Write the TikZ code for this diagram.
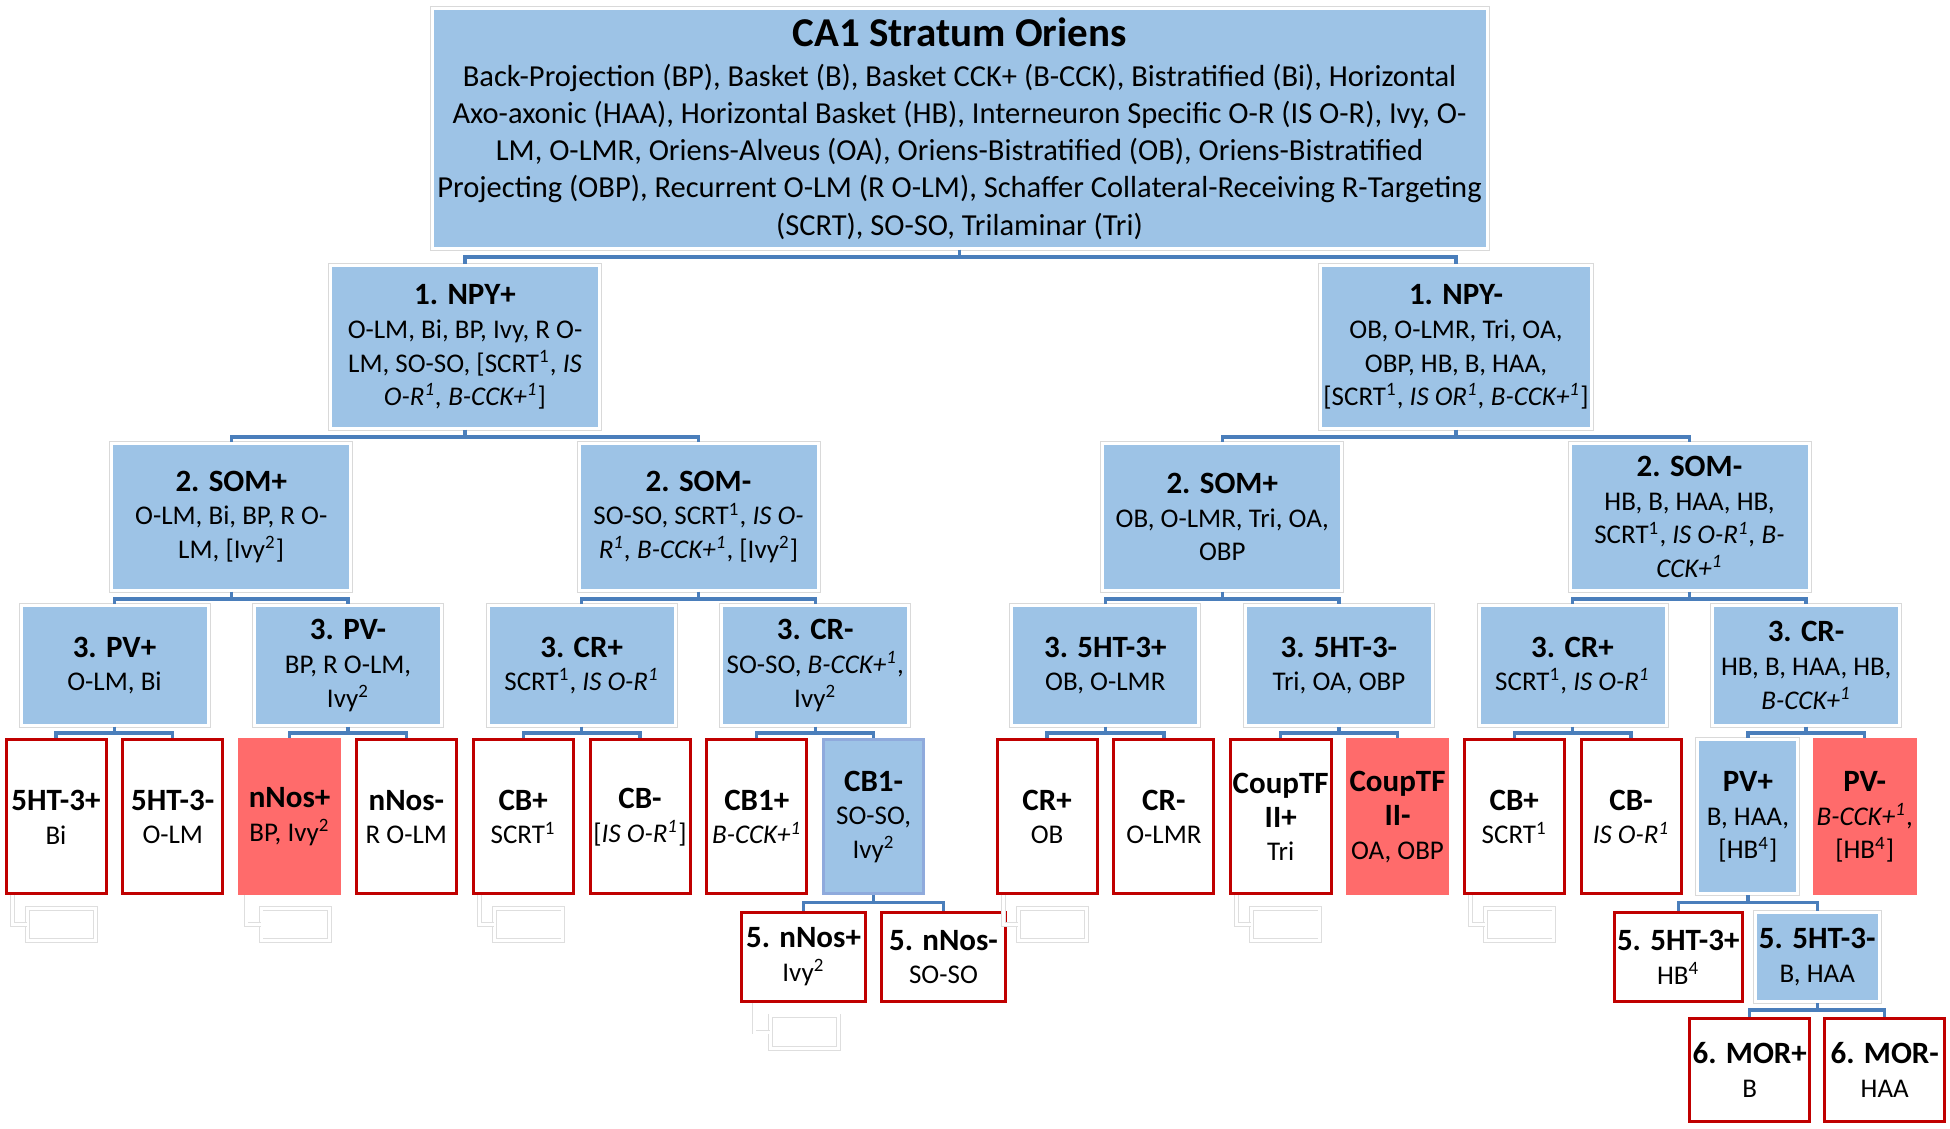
\documentclass[tikz,border=0pt]{standalone}
\usepackage{fontspec}
\setmainfont{Carlito}
\usepackage{tikz}
\usetikzlibrary{positioning}
\definecolor{cellblue}{RGB}{157,195,230}
\definecolor{linkblue}{RGB}{74,126,187}
\definecolor{leafred}{RGB}{192,0,0}
\definecolor{hotred}{RGB}{255,107,107}
\definecolor{cbline}{RGB}{143,170,220}
\tikzstyle{cell} = [rectangle, align=center, inner sep=1pt, font=\fontsize{10.8}{13.5}\selectfont]
\tikzstyle{bluebox} = [cell, fill=cellblue, draw=white, line width=1.2pt, preaction={draw=black!15, line width=2pt}]
\tikzstyle{cbbox} = [cell, fill=cellblue, draw=cbline, line width=1.2pt, minimum width=40pt, minimum height=61.6pt]
\tikzstyle{leaf} = [cell, fill=white, draw=leafred, line width=1.2pt, minimum width=40pt, minimum height=61.6pt]
\tikzstyle{hot} = [cell, fill=hotred, draw=hotred, line width=1.2pt, minimum width=40pt, minimum height=61.6pt]
\tikzstyle{leafsz} = [minimum width=40pt, minimum height=61.6pt]
\tikzstyle{topsz} = [minimum width=422pt, minimum height=96pt, font=\fontsize{12.2}{14.9}\selectfont]
\tikzstyle{npysz} = [minimum width=107.6pt, minimum height=65.2pt]
\tikzstyle{somsz} = [minimum width=95.6pt, minimum height=58.8pt]
\tikzstyle{lvsz} = [minimum width=74.8pt, minimum height=48pt]
\tikzstyle{fivesz} = [minimum width=49.6pt, minimum height=35.6pt]
\tikzstyle{sixsz} = [minimum width=48pt, minimum height=41.2pt]
\tikzstyle{ghost} = [rectangle, draw=black!13, double=white, double distance=1.2pt, line width=0.35pt, minimum width=27.3pt, minimum height=12.9pt, inner sep=0pt]
\tikzstyle{glink} = [draw=black!13, double=white, double distance=1.2pt, line width=0.35pt]
\tikzstyle{link} = [draw=linkblue, line width=1.3pt]
\newcommand{\fnm}[1]{\textsuperscript{#1}}
\newcommand{\hd}[1]{{\fontsize{12.4}{14}\selectfont\bfseries #1}}

\begin{document}
\begin{tikzpicture}[x=1pt, y=1pt, node distance=46.72pt]
    \useasboundingbox (0,0) rectangle (780,-451.6);
    % top
    \node[bluebox, topsz] (root) at (383.8,-51.4) {{\fontsize{16.4}{18}\selectfont\bfseries CA1 Stratum Oriens}\\[1pt]
        Back-Projection (BP), Basket (B), Basket CCK+ (B-CCK), Bistratified (Bi), Horizontal\\
        Axo-axonic (HAA), Horizontal Basket (HB), Interneuron Specific O-R (IS O-R), Ivy, O-\\
        LM, O-LMR, Oriens-Alveus (OA), Oriens-Bistratified (OB), Oriens-Bistratified\\
        Projecting (OBP), Recurrent O-LM (R O-LM), Schaffer Collateral-Receiving R-Targeting\\
        (SCRT), SO-SO, Trilaminar (Tri)};
    % 1. NPY
    \node[bluebox, npysz] (npyp) at (186,-138.8) {\hd{1. NPY+}\\O-LM, Bi, BP, Ivy, R O-\\LM, SO-SO, {[}SCRT\fnm{1}, \textit{IS}\\\textit{O-R\fnm{1}, B-CCK+\fnm{1}}{]}};
    \node[bluebox, npysz, right of=npyp, node distance=396.4pt] (npym) {\hd{1. NPY-}\\OB, O-LMR, Tri, OA,\\OBP, HB, B, HAA,\\{[}SCRT\fnm{1}, \textit{IS OR\fnm{1}, B-CCK+\fnm{1}}{]}};
    % 2. SOM
    \node[bluebox, somsz] (somp) at (92.5,-206.8) {\hd{2. SOM+}\\O-LM, Bi, BP, R O-\\LM, {[}Ivy\fnm{2}{]}};
    \node[bluebox, somsz, right of=somp, node distance=186.9pt] (somm) {\hd{2. SOM-}\\SO-SO, SCRT\fnm{1}, \textit{IS O-}\\\textit{R\fnm{1}, B-CCK+\fnm{1}}, {[}Ivy\fnm{2}{]}};
    \node[bluebox, somsz, right of=somm, node distance=209.5pt] (sompb) {\hd{2. SOM+}\\OB, O-LMR, Tri, OA,\\OBP};
    \node[bluebox, somsz, right of=sompb, node distance=186.9pt] (sommb) {\hd{2. SOM-}\\HB, B, HAA, HB,\\SCRT\fnm{1}, \textit{IS O-R\fnm{1}, B-}\\\textit{CCK+\fnm{1}}};
    % 3.
    \node[bluebox, lvsz] (pvp) at (45.8,-266.2) {\hd{3. PV+}\\O-LM, Bi};
    \node[bluebox, lvsz, right of=pvp, node distance=93.44pt] (pvm) {\hd{3. PV-}\\BP, R O-LM,\\Ivy\fnm{2}};
    \node[bluebox, lvsz, right of=pvm, node distance=93.44pt] (crp) {\hd{3. CR+}\\SCRT\fnm{1}, \textit{IS O-R\fnm{1}}};
    \node[bluebox, lvsz, right of=crp, node distance=93.44pt] (crm) {\hd{3. CR-}\\SO-SO, \textit{B-CCK+\fnm{1}},\\Ivy\fnm{2}};
    \node[bluebox, lvsz, right of=crm, node distance=116pt] (htp) {\hd{3. 5HT-3+}\\OB, O-LMR};
    \node[bluebox, lvsz, right of=htp, node distance=93.44pt] (htm) {\hd{3. 5HT-3-}\\Tri, OA, OBP};
    \node[bluebox, lvsz, right of=htm, node distance=93.44pt] (crpb) {\hd{3. CR+}\\SCRT\fnm{1}, \textit{IS O-R\fnm{1}}};
    \node[bluebox, lvsz, right of=crpb, node distance=93.44pt] (crmb) {\hd{3. CR-}\\HB, B, HAA, HB,\\\textit{B-CCK+\fnm{1}}};
    % leaves
    \node[leaf] (l1) at (22.4,-326.8) {\hd{5HT-3+}\\Bi};
    \node[leaf, right of=l1] (l2) {\hd{5HT-3-}\\O-LM};
    \node[hot, right of=l2] (l3) {\hd{nNos+}\\BP, Ivy\fnm{2}};
    \node[leaf, right of=l3] (l4) {\hd{nNos-}\\R O-LM};
    \node[leaf, right of=l4] (l5) {\hd{CB+}\\SCRT\fnm{1}};
    \node[leaf, right of=l5] (l6) {\hd{CB-}\\{[}\textit{IS O-R\fnm{1}}{]}};
    \node[leaf, right of=l6] (l7) {\hd{CB1+}\\\textit{B-CCK+\fnm{1}}};
    \node[cbbox, right of=l7] (l8) {\hd{CB1-}\\SO-SO,\\Ivy\fnm{2}};
    \node[leaf, right of=l8, node distance=69.4pt] (l9) {\hd{CR+}\\OB};
    \node[leaf, right of=l9] (l10) {\hd{CR-}\\O-LMR};
    \node[leaf, right of=l10] (l11) {\hd{CoupTF}\\\hd{II+}\\Tri};
    \node[hot, right of=l11] (l12) {\hd{CoupTF}\\\hd{II-}\\OA, OBP};
    \node[leaf, right of=l12] (l13) {\hd{CB+}\\SCRT\fnm{1}};
    \node[leaf, right of=l13] (l14) {\hd{CB-}\\\textit{IS O-R\fnm{1}}};
    \node[bluebox, leafsz, right of=l14] (l15) {\hd{PV+}\\B, HAA,\\{[}HB\fnm{4}{]}};
    \node[hot, right of=l15] (l16) {\hd{PV-}\\\textit{B-CCK+\fnm{1}},\\{[}HB\fnm{4}{]}};
    % 5. and 6.
    \node[leaf, fivesz] (m1) at (321.4,-382.8) {\hd{5. nNos+}\\Ivy\fnm{2}};
    \node[leaf, fivesz, right of=m1, node distance=56pt] (m2) {\hd{5. nNos-}\\SO-SO};
    \node[leaf, fivesz] (m3) at (671.3,-382.8) {\hd{5. 5HT-3+}\\HB\fnm{4}};
    \node[bluebox, fivesz, right of=m3, node distance=55.6pt] (m4) {\hd{5. 5HT-3-}\\B, HAA};
    \node[leaf, sixsz] (n1) at (699.9,-428) {\hd{6. MOR+}\\B};
    \node[leaf, sixsz, right of=n1, node distance=54pt] (n2) {\hd{6. MOR-}\\HAA};
    % empty boxes
    \node[ghost, below right=5pt and 9pt of l1.south west] (g1) {};
    \node[ghost, below right=5pt and 9pt of l3.south west] (g3) {};
    \node[ghost, below right=5pt and 9pt of l5.south west] (g5) {};
    \node[ghost, below right=5pt and 9pt of l9.south west] (g9) {};
    \node[ghost, below right=5pt and 9pt of l11.south west] (g11) {};
    \node[ghost, below right=5pt and 9pt of l13.south west] (g13) {};
    \node[ghost, below right=5pt and 12pt of m1.south west] (gm1) {};
    \draw[glink] ([xshift=3.2pt]l1.south west) |- (g1.west);
    \draw[glink] ([xshift=3.2pt]l3.south west) |- (g3.west);
    \draw[glink] ([xshift=3.2pt]l5.south west) |- (g5.west);
    \draw[glink] ([xshift=3.2pt]l9.south west) |- (g9.west);
    \draw[glink] ([xshift=3.2pt]l11.south west) |- (g11.west);
    \draw[glink] ([xshift=3.2pt]l13.south west) |- (g13.west);
    \draw[glink] ([xshift=5.6pt]m1.south west) |- (gm1.west);
    % links
    \draw[link] (root.south) -- ++(0,-2.8) -| (npyp.north);
    \draw[link] (root.south) -- ++(0,-2.8) -| (npym.north);
    \draw[link] (npyp.south) -- ++(0,-2.8) -| (somp.north);
    \draw[link] (npyp.south) -- ++(0,-2.8) -| (somm.north);
    \draw[link] (npym.south) -- ++(0,-2.8) -| (sompb.north);
    \draw[link] (npym.south) -- ++(0,-2.8) -| (sommb.north);
    \draw[link] (somp.south) -- ++(0,-2.8) -| (pvp.north);
    \draw[link] (somp.south) -- ++(0,-2.8) -| (pvm.north);
    \draw[link] (somm.south) -- ++(0,-2.8) -| (crp.north);
    \draw[link] (somm.south) -- ++(0,-2.8) -| (crm.north);
    \draw[link] (sompb.south) -- ++(0,-2.8) -| (htp.north);
    \draw[link] (sompb.south) -- ++(0,-2.8) -| (htm.north);
    \draw[link] (sommb.south) -- ++(0,-2.8) -| (crpb.north);
    \draw[link] (sommb.south) -- ++(0,-2.8) -| (crmb.north);
    \draw[link] (pvp.south) -- ++(0,-2.4) -| (l1.north);
    \draw[link] (pvp.south) -- ++(0,-2.4) -| (l2.north);
    \draw[link] (pvm.south) -- ++(0,-2.4) -| (l3.north);
    \draw[link] (pvm.south) -- ++(0,-2.4) -| (l4.north);
    \draw[link] (crp.south) -- ++(0,-2.4) -| (l5.north);
    \draw[link] (crp.south) -- ++(0,-2.4) -| (l6.north);
    \draw[link] (crm.south) -- ++(0,-2.4) -| (l7.north);
    \draw[link] (crm.south) -- ++(0,-2.4) -| (l8.north);
    \draw[link] (htp.south) -- ++(0,-2.4) -| (l9.north);
    \draw[link] (htp.south) -- ++(0,-2.4) -| (l10.north);
    \draw[link] (htm.south) -- ++(0,-2.4) -| (l11.north);
    \draw[link] (htm.south) -- ++(0,-2.4) -| (l12.north);
    \draw[link] (crpb.south) -- ++(0,-2.4) -| (l13.north);
    \draw[link] (crpb.south) -- ++(0,-2.4) -| (l14.north);
    \draw[link] (crmb.south) -- ++(0,-2.4) -| (l15.north);
    \draw[link] (crmb.south) -- ++(0,-2.4) -| (l16.north);
    \draw[link] (l8.south) -- ++(0,-2.8) -| (m1.north);
    \draw[link] (l8.south) -- ++(0,-2.8) -| (m2.north);
    \draw[link] (l15.south) -- ++(0,-2.8) -| (m3.north);
    \draw[link] (l15.south) -- ++(0,-2.8) -| (m4.north);
    \draw[link] (m4.south) -- ++(0,-2.8) -| (n1.north);
    \draw[link] (m4.south) -- ++(0,-2.8) -| (n2.north);
\end{tikzpicture}
\end{document}
